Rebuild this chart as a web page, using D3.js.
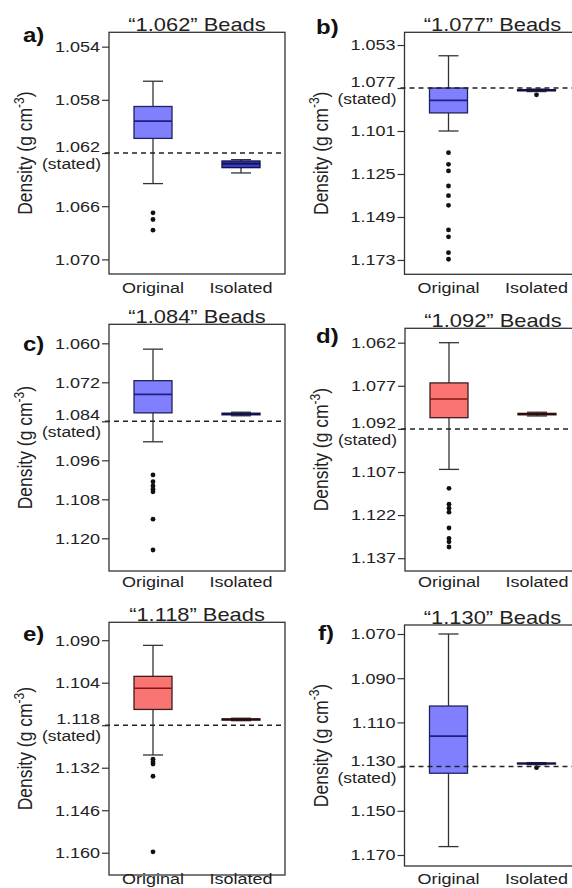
<!DOCTYPE html>
<html>
<head>
<meta charset="utf-8">
<script src="https://cdn.jsdelivr.net/npm/d3@7"></script>
<style>
body{margin:0;background:#fff;}
svg{display:block;font-family:"Liberation Sans",Arial,Helvetica,sans-serif;}
</style>
</head>
<body>
<script>
// data
var letters = ["a)","b)","c)","d)","e)","f)"];
var titles = ["\u201c1.062\u201d Beads","\u201c1.077\u201d Beads","\u201c1.084\u201d Beads",
              "\u201c1.092\u201d Beads","\u201c1.118\u201d Beads","\u201c1.130\u201d Beads"];
var groups = ["Original","Isolated"];
var tone = ["blue","blue","blue","red","red","blue"];
var stated = [1.062, 1.077, 1.084, 1.092, 1.118, 1.130];

var yDomains = [[1.05292,1.0711],[1.0459,1.181],[1.05415,1.13006],
                [1.05699,1.14146],[1.0841,1.16733],[1.06593,1.17498]];
var yTicks = [[1.054,1.058,1.062,1.066,1.070],
              [1.053,1.077,1.101,1.125,1.149,1.173],
              [1.060,1.072,1.084,1.096,1.108,1.120],
              [1.062,1.077,1.092,1.107,1.122,1.137],
              [1.090,1.104,1.118,1.132,1.146,1.160],
              [1.070,1.090,1.110,1.130,1.150,1.170]];

// [lower whisker, q1, median, q3, upper whisker]
var origStats = [[1.0566,1.0585,1.0596,1.0609,1.0643],
                 [1.0590,1.0770,1.0839,1.0909,1.1010],
                 [1.0618,1.0715,1.0757,1.0814,1.0903],
                 [1.0620,1.0760,1.0816,1.0881,1.1061],
                 [1.0917,1.1019,1.1058,1.1128,1.1278],
                 [1.0700,1.1026,1.1162,1.1330,1.1662]];
var isoStats = [[1.0625,1.0626,1.0628,1.0631,1.0635],
                [1.0776,1.0779,1.0782,1.0786,1.0790],
                [1.0812,1.0815,1.0818,1.0820,1.0823],
                [1.0862,1.0866,1.0868,1.0871,1.0875],
                [1.1157,1.1159,1.1161,1.1163,1.1165],
                [1.1282,1.1284,1.1286,1.1288,1.1291]];
var origOut = [[1.0665,1.0670,1.0678],
               [1.1131,1.1196,1.1233,1.1317,1.1371,1.1425,1.1562,1.1601,1.1689,1.1726],
               [1.1005,1.1026,1.1039,1.1049,1.1057,1.1141,1.1236],
               [1.1127,1.1182,1.1196,1.1210,1.1265,1.1301,1.1313,1.1331],
               [1.1292,1.1300,1.1308,1.1348,1.1597],
               []];
var isoOut = [[],[1.0808],[],[],[],[1.1305]];

// layout of the six panels (pixels)
var layout = [
  {x0:109,   y0:32.3,  y1:274,   lab:[23,42],   xlabY:292.5},
  {x0:404.5, y0:32.3,  y1:274.3, lab:[316,34],  xlabY:292.5},
  {x0:109,   y0:324.3, y1:571,   lab:[23,351],  xlabY:587},
  {x0:405,   y0:328.3, y1:571,   lab:[316,343], xlabY:587},
  {x0:109,   y0:622.3, y1:875,   lab:[23,641],  xlabY:883.5},
  {x0:404.5, y0:625,   y1:866,   lab:[318,640], xlabY:883.5}
];
var palette = {
  blue:{fill:["#8080ff","#3a3ac4"], edge:["#22225e","#10104a"], med:["#1e1e80","#10104a"]},
  red:{fill:["#fa7474","#7a2020"], edge:["#3c1e1e","#2e0c0c"], med:["#8a1414","#2e0c0c"]}
};

var sx = 1.2;   // text in the source is stretched sideways
var W = 176, boxW = 38, capW = 20;
var fmt = d3.format(".3f");

var svg = d3.select("body").append("svg").attr("width",572).attr("height",888);

letters.forEach(function(letter, i){
  var L = layout[i];
  var pal = palette[tone[i]];
  var x = d3.scaleLinear().domain([0.5,2.5]).range([L.x0, L.x0+W]);
  var y = d3.scaleLinear().domain(yDomains[i]).range([L.y0, L.y1]);
  var g = svg.append("g");

  var stats = [origStats[i], isoStats[i]];
  var outs = [origOut[i], isoOut[i]];

  stats.forEach(function(s, j){
    var cx = x(j+1);
    var b = g.append("g");
    b.selectAll("line.wh").data([[s[0],s[1]],[s[3],s[4]]]).enter().append("line")
      .attr("x1",cx).attr("x2",cx)
      .attr("y1",function(d){return y(d[0])}).attr("y2",function(d){return y(d[1])})
      .attr("stroke","#333").attr("stroke-width",1.3);
    b.selectAll("line.cap").data([s[0],s[4]]).enter().append("line")
      .attr("x1",cx-capW/2).attr("x2",cx+capW/2)
      .attr("y1",function(d){return y(d)}).attr("y2",function(d){return y(d)})
      .attr("stroke","#333").attr("stroke-width",1.3);
    b.append("rect")
      .attr("x",cx-boxW/2).attr("width",boxW)
      .attr("y",y(s[1])).attr("height",Math.max(y(s[3])-y(s[1]),0.5))
      .attr("fill",pal.fill[j]).attr("stroke",pal.edge[j]).attr("stroke-width",1.3);
    b.append("line")
      .attr("x1",cx-boxW/2).attr("x2",cx+boxW/2)
      .attr("y1",y(s[2])).attr("y2",y(s[2]))
      .attr("stroke",pal.med[j]).attr("stroke-width",1.6);
    b.selectAll("circle").data(outs[j]).enter().append("circle")
      .attr("cx",cx).attr("cy",function(d){return y(d)})
      .attr("r",2.4).attr("fill","#111");
  });

  // frame
  g.append("rect").attr("x",L.x0).attr("y",L.y0).attr("width",W).attr("height",L.y1-L.y0)
    .attr("fill","none").attr("stroke","#333").attr("stroke-width",1.3);

  // stated density
  g.append("line").attr("x1",L.x0-4).attr("x2",L.x0+W)
    .attr("y1",y(stated[i])).attr("y2",y(stated[i]))
    .attr("stroke","#222").attr("stroke-width",1.5).attr("stroke-dasharray","5,4");

  // y axis
  var ax = g.append("g").attr("transform","translate("+L.x0+",0)")
    .call(d3.axisLeft(y).tickValues(yTicks[i]).tickFormat(fmt).tickSize(7).tickSizeOuter(0));
  ax.attr("font-family",null).attr("font-size",15);
  ax.select(".domain").remove();
  ax.selectAll(".tick line").attr("stroke","#333").attr("stroke-width",1.2);
  ax.selectAll(".tick text").attr("fill","#222").attr("x",-9/sx)
    .attr("transform","scale("+sx+",1)");
  ax.selectAll(".tick").filter(function(d){return Math.abs(d-stated[i])<1e-9})
    .select("text").text(null).attr("dy",null)
    .call(function(t){
      t.append("tspan").attr("x",-9/sx).attr("y",-1.5).text(fmt(stated[i]));
      t.append("tspan").attr("x",-8/sx).attr("y",15.5).attr("font-size",14.5).text("(stated)");
    });

  // x labels
  g.selectAll("text.xl").data(groups).enter().append("text")
    .attr("transform",function(d,j){return "translate("+x(j+1)+","+L.xlabY+") scale("+sx+",1)"})
    .attr("text-anchor","middle").attr("font-size",15).attr("fill","#222")
    .text(function(d){return d});

  // title
  g.append("text")
    .attr("transform","translate("+(L.x0+W/2)+","+(L.y0-1.5)+") scale("+(sx+0.05)+",1)")
    .attr("text-anchor","middle").attr("font-size",17.5).attr("fill","#222")
    .text(titles[i]);

  // panel letter
  g.append("text")
    .attr("transform","translate("+L.lab[0]+","+L.lab[1]+") scale("+sx+",1)")
    .attr("font-size",20).attr("font-weight","bold").attr("fill","#111")
    .text(letter);

  // y title
  g.append("text")
    .attr("transform","translate("+(L.x0-77)+","+((L.y0+L.y1)/2)+") rotate(-90) scale(1,"+sx+")")
    .attr("text-anchor","middle").attr("font-size",17.5).attr("fill","#222")
    .call(function(t){
      t.append("tspan").text("Density (g cm");
      t.append("tspan").attr("dy",-7).attr("font-size",12).text("-3");
      t.append("tspan").attr("dy",7).text(")");
    });
});
</script>
</body>
</html>
